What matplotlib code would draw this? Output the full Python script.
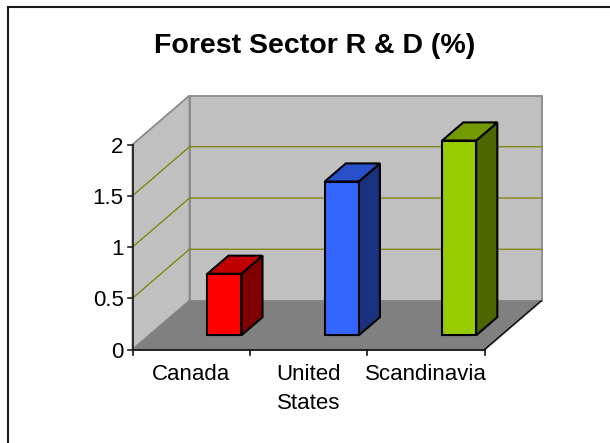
import matplotlib
matplotlib.use("Agg")
import matplotlib.pyplot as plt
from matplotlib.patches import Polygon, Rectangle

# ---- data ----
categories = ["Canada", "United\nStates", "Scandinavia"]
values = [0.6, 1.5, 1.9]
yticks = [0, 0.5, 1, 1.5, 2]
ytick_labels = ["0", "0.5", "1", "1.5", "2"]
title = "Forest Sector R & D (%)"

front_colors = ["#FF0000", "#3366FF", "#99CC00"]
top_colors = ["#C00000", "#2850C8", "#739900"]
side_colors = ["#800000", "#1A3380", "#4D6600"]

plt.rcParams['font.family'] = ['Liberation Sans', 'DejaVu Sans']

W, H = 610, 443
fig = plt.figure(figsize=(W / 100, H / 100), dpi=100)
ax = fig.add_axes([0, 0, 1, 1])
ax.set_axis_off()

# pixel layout of the 3-D box (origin = front-left-bottom corner)
X0, Y0 = 132.5, 349.5
CAT_PX, VAL_PX = 117.4, 102.5
ax.set_xlim(-X0 / CAT_PX, (W - X0) / CAT_PX)
ax.set_ylim((Y0 - H) / VAL_PX, Y0 / VAL_PX)

DX = 57.0 / CAT_PX   # depth offset in category units
DZ = 49.0 / VAL_PX   # depth offset in value units
ncat = len(categories)
vmax = max(yticks)


def proj(x, z, d):
    return (x + d * DX, z + d * DZ)


wall_c = "#C0C0C0"
floor_c = "#808080"
edge_c = "#8A8A8A"

# back wall
ax.add_patch(Polygon([proj(0, 0, 1), proj(ncat, 0, 1), proj(ncat, vmax, 1), proj(0, vmax, 1)],
                     closed=True, facecolor=wall_c, edgecolor=edge_c, lw=1.3, zorder=1))
# left wall
ax.add_patch(Polygon([proj(0, 0, 0), proj(0, 0, 1), proj(0, vmax, 1), proj(0, vmax, 0)],
                     closed=True, facecolor=wall_c, edgecolor=edge_c, lw=1.3, zorder=1))
# floor
ax.add_patch(Polygon([proj(0, 0, 0), proj(ncat, 0, 0), proj(ncat, 0, 1), proj(0, 0, 1)],
                     closed=True, facecolor=floor_c, edgecolor="none", lw=0, zorder=1.2))
# floor right edge
p1, p2 = proj(ncat, 0, 0), proj(ncat, 0, 1)
ax.plot([p1[0], p2[0]], [p1[1], p2[1]], color="#111111", lw=1.2, zorder=3,
        solid_capstyle="butt")

# gridlines
grid_c = "#808000"
for v in yticks[1:-1]:
    a, b, c = proj(0, v, 0), proj(0, v, 1), proj(ncat, v, 1)
    ax.plot([a[0], b[0], c[0]], [a[1], b[1], c[1]], color=grid_c, lw=0.9, zorder=2)

# axes lines
ax.plot([0, 0], [0, vmax], color="#222222", lw=1.3, zorder=3)
ax.plot([0, ncat], [0, 0], color="#111111", lw=1.3, zorder=3)
tick_x = 5 / CAT_PX
tick_y = 5 / VAL_PX
for v, lab in zip(yticks, ytick_labels):
    ax.plot([-tick_x, 0], [v, v], color="#222222", lw=1.2, zorder=3)
    ax.text(-9 / CAT_PX, v, lab, ha="right", va="center_baseline", fontsize=16,
            color="black")
for i in range(ncat + 1):
    ax.plot([i, i], [0, -tick_y], color="#111111", lw=1.2, zorder=3)
for i, lab in enumerate(categories):
    ax.text(i + 0.5, -14 / VAL_PX, lab, ha="center", va="top", fontsize=16,
            linespacing=1.55, color="black")

# bars
d_front, d_depth = 0.29, 0.37
off, bw = 0.497, 0.29
for i, v in enumerate(values):
    xl, xr = i + off, i + off + bw
    df, db = d_front, d_front + d_depth
    front = [proj(xl, 0, df), proj(xr, 0, df), proj(xr, v, df), proj(xl, v, df)]
    top = [proj(xl, v, df), proj(xr, v, df), proj(xr, v, db), proj(xl, v, db)]
    side = [proj(xr, 0, df), proj(xr, 0, db), proj(xr, v, db), proj(xr, v, df)]
    for pts, col in ((side, side_colors[i]), (top, top_colors[i]), (front, front_colors[i])):
        ax.add_patch(Polygon(pts, closed=True, facecolor=col, edgecolor="black",
                             lw=1.5, joinstyle="miter", zorder=5 + i))

# title
ax.text(0.515, 1 - 53 / H, title, transform=ax.transAxes, ha="center", va="baseline",
        fontsize=20.5, fontweight="bold")

# outer frame (extends past right/bottom edge)
fig.patches.append(Rectangle((7.5 / W, -0.2), 1.5, 1.2 - 6.5 / H, transform=fig.transFigure,
                             fill=False, edgecolor="#1A1A1A", lw=1.5, zorder=10))

fig.savefig("out.png", dpi=100)
